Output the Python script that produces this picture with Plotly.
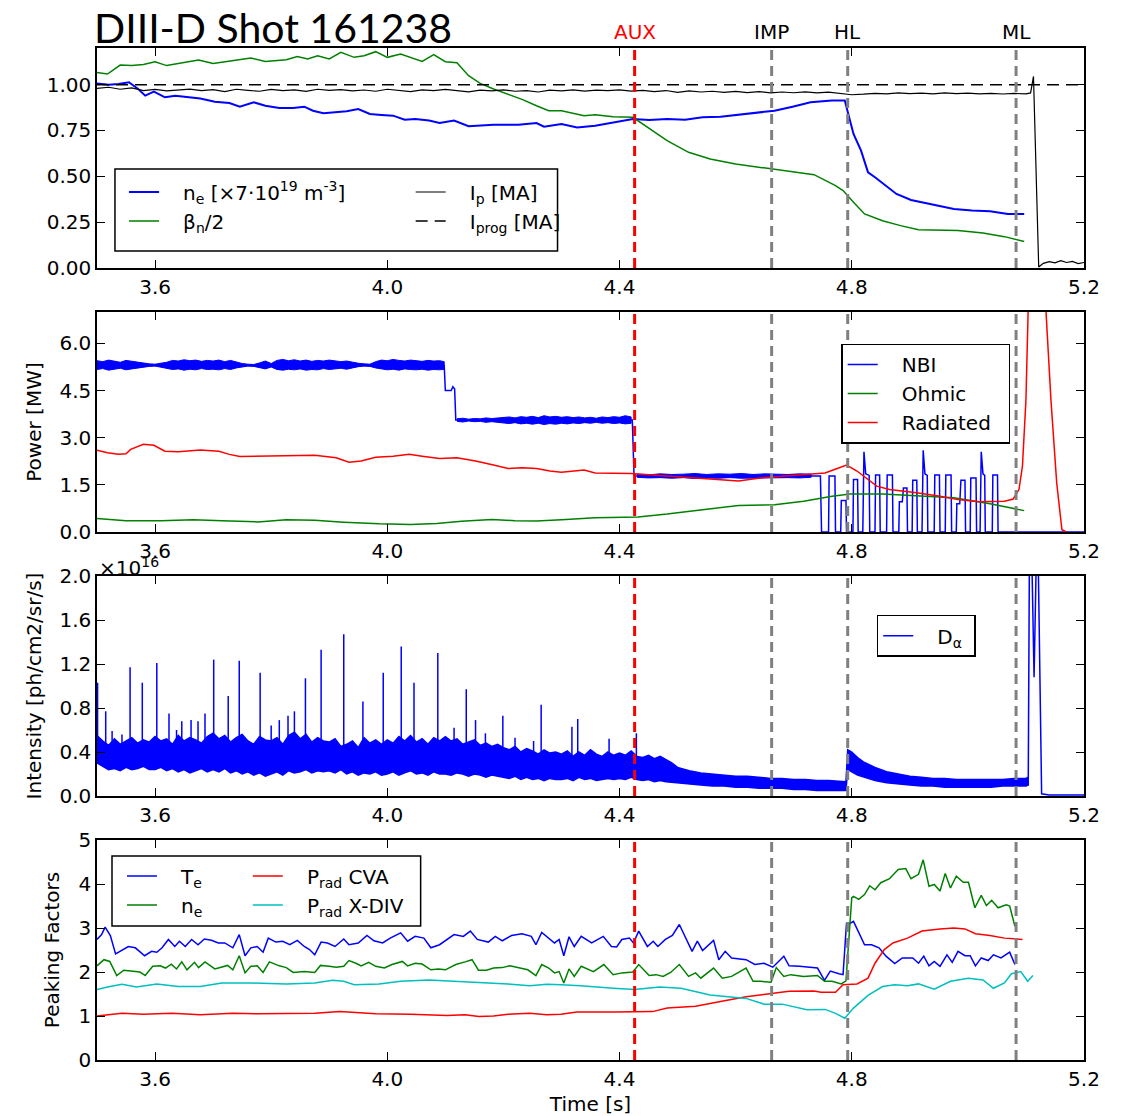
import plotly.graph_objects as go
from plotly.subplots import make_subplots

FONT = 'DejaVu Sans'
BLUE, GREEN, RED, CYAN = '#0000ff', '#008000', '#ff0000', '#00bfbf'
SP = '\u00a0\u00a0\u00a0'   # gap between legend line and label

# ---------------- panel 1: density, beta_n, plasma current
ne_t = [3.500, 3.520, 3.537, 3.555, 3.571, 3.583, 3.598, 3.617, 3.635, 3.660, 3.678, 3.703, 3.728, 3.746,
        3.770, 3.790, 3.814, 3.838, 3.857, 3.872, 3.890, 3.910, 3.930, 3.950, 3.970, 3.990, 4.010, 4.030,
        4.048, 4.072, 4.090, 4.115, 4.140, 4.183, 4.226, 4.257, 4.270, 4.300, 4.327, 4.358, 4.389, 4.423,
        4.451, 4.482, 4.513, 4.543, 4.574, 4.605, 4.642, 4.667, 4.698, 4.729, 4.766, 4.788, 4.794, 4.803,
        4.816, 4.828, 4.840, 4.859, 4.877, 4.902, 4.927, 4.952, 4.976, 5.007, 5.038, 5.069, 5.097]
ne_v = [1.007, 1.000, 1.004, 1.013, 0.976, 0.940, 0.962, 0.931, 0.940, 0.931, 0.925, 0.907, 0.900, 0.880,
        0.904, 0.885, 0.873, 0.873, 0.880, 0.858, 0.844, 0.849, 0.855, 0.867, 0.840, 0.835, 0.831, 0.809,
        0.813, 0.804, 0.791, 0.804, 0.773, 0.782, 0.782, 0.791, 0.771, 0.785, 0.767, 0.776, 0.795, 0.813,
        0.807, 0.813, 0.809, 0.822, 0.825, 0.836, 0.849, 0.858, 0.880, 0.904, 0.913, 0.913, 0.840, 0.731,
        0.640, 0.522, 0.495, 0.449, 0.404, 0.371, 0.355, 0.340, 0.322, 0.313, 0.309, 0.295, 0.295]

beta_t = [3.500, 3.518, 3.540, 3.560, 3.580, 3.600, 3.620, 3.640, 3.675, 3.700, 3.728, 3.765, 3.790, 3.826,
          3.845, 3.863, 3.880, 3.900, 3.920, 3.943, 3.960, 3.980, 4.000, 4.023, 4.060, 4.080, 4.100, 4.120,
          4.140, 4.160, 4.183, 4.232, 4.257, 4.278, 4.300, 4.339, 4.358, 4.389, 4.423, 4.457, 4.482, 4.519,
          4.556, 4.600, 4.642, 4.692, 4.735, 4.772, 4.785, 4.803, 4.822, 4.853, 4.884, 4.915, 4.952, 4.983,
          5.026, 5.063, 5.097]
beta_v = [1.067, 1.058, 1.107, 1.104, 1.110, 1.125, 1.104, 1.116, 1.135, 1.116, 1.127, 1.145, 1.127, 1.136,
          1.153, 1.140, 1.158, 1.140, 1.176, 1.149, 1.158, 1.180, 1.149, 1.167, 1.127, 1.164, 1.125, 1.120,
          1.049, 1.007, 0.976, 0.920, 0.885, 0.858, 0.858, 0.831, 0.836, 0.825, 0.822, 0.749, 0.695, 0.631,
          0.595, 0.567, 0.549, 0.527, 0.509, 0.449, 0.422, 0.358, 0.295, 0.258, 0.231, 0.209, 0.207, 0.204,
          0.191, 0.171, 0.144]

ip_t = [3.50, 3.52, 3.54, 3.56, 3.58, 3.60, 3.62, 3.64, 3.66, 3.68, 3.70, 3.72, 3.74, 3.76, 3.78, 3.80,
        3.82, 3.84, 3.86, 3.88, 3.90, 3.92, 3.94, 3.96, 3.98, 4.00, 4.02, 4.04, 4.06, 4.08, 4.10, 4.12,
        4.14, 4.16, 4.18, 4.20, 4.22, 4.24, 4.26, 4.28, 4.30, 4.32, 4.34, 4.36, 4.38, 4.40, 4.42, 4.44,
        4.46, 4.48, 4.50, 4.52, 4.54, 4.56, 4.58, 4.60, 4.62, 4.64, 4.66, 4.68, 4.70, 4.72, 4.74, 4.76,
        4.78, 4.80, 4.82, 4.84, 4.86, 4.88, 4.90, 4.92, 4.94, 4.96, 4.98, 5.00, 5.02, 5.04, 5.06, 5.08,
        5.10, 5.108, 5.113, 5.117, 5.122, 5.13, 5.14, 5.15, 5.16, 5.17, 5.18, 5.19, 5.20]
ip_v = [0.980, 0.986, 0.975, 0.982, 0.968, 0.974, 0.966, 0.972, 0.976, 0.967, 0.973, 0.962, 0.975, 0.969,
        0.964, 0.974, 0.968, 0.972, 0.963, 0.975, 0.969, 0.973, 0.966, 0.971, 0.964, 0.975, 0.969, 0.962,
        0.972, 0.967, 0.974, 0.968, 0.961, 0.970, 0.966, 0.972, 0.964, 0.968, 0.960, 0.970, 0.966, 0.972,
        0.965, 0.970, 0.968, 0.972, 0.965, 0.969, 0.962, 0.968, 0.958, 0.966, 0.960, 0.964, 0.958, 0.963,
        0.957, 0.962, 0.955, 0.960, 0.956, 0.961, 0.955, 0.959, 0.952, 0.945, 0.948, 0.953, 0.950, 0.955,
        0.951, 0.954, 0.950, 0.955, 0.951, 0.954, 0.950, 0.953, 0.949, 0.952, 0.950, 0.955, 1.045, 0.550,
        0.005, 0.025, 0.035, 0.028, 0.040, 0.030, 0.036, 0.024, 0.030]

iprog_t = [3.50, 5.20]
iprog_v = [1.00, 1.00]

# ---------------- panel 2: power balance
nbi_t = [3.500, 4.098, 4.100, 4.110, 4.113, 4.116, 4.118, 4.422, 4.425,
         4.746, 4.748, 4.760, 4.761, 4.771, 4.772, 4.781, 4.782, 4.790, 4.791, 4.802, 4.803, 4.810, 4.811,
         4.819, 4.821, 4.824, 4.830, 4.831, 4.840, 4.841, 4.848, 4.849, 4.860, 4.861, 4.870, 4.871, 4.881,
         4.882, 4.887, 4.889, 4.895, 4.896, 4.904, 4.905, 4.912, 4.913, 4.921, 4.923, 4.926, 4.930, 4.931,
         4.942, 4.943, 4.951, 4.952, 4.961, 4.962, 4.971, 4.972, 4.980, 4.981, 4.986, 4.988, 4.995, 4.996,
         5.004, 5.005, 5.014, 5.015, 5.021, 5.023, 5.026, 5.029, 5.030, 5.042, 5.043, 5.051, 5.052, 5.200]
nbi_v = [5.30, 5.30, 4.50, 4.50, 4.62, 4.55, 3.56, 3.56, 1.78,
         1.78, 0.00, 0.00, 1.78, 1.78, 0.00, 0.00, 1.00, 1.00, 0.00, 0.00, 1.67, 1.67, 0.00,
         0.00, 2.55, 1.85, 1.80, 0.00, 0.00, 1.81, 1.81, 0.00, 0.00, 1.81, 1.81, 0.00, 0.00,
         0.96, 0.96, 1.40, 1.40, 0.00, 0.00, 1.65, 1.65, 0.00, 0.00, 2.60, 1.85, 1.80, 0.00,
         0.00, 1.81, 1.81, 0.00, 0.00, 1.81, 1.81, 0.00, 0.00, 0.90, 0.90, 1.65, 1.65, 0.00,
         0.00, 1.72, 1.72, 0.00, 0.00, 2.55, 1.85, 1.80, 0.00, 0.00, 1.81, 1.81, 0.00, 0.00]

# fluctuation envelope of the beam power (max / min) during the steady phases
nbi_b1_t = [3.50, 3.51, 3.52, 3.53, 3.54, 3.55, 3.56, 3.57, 3.58, 3.59,
            3.60, 3.61, 3.62, 3.63, 3.64, 3.65, 3.66, 3.67, 3.68, 3.69,
            3.70, 3.71, 3.72, 3.73, 3.74, 3.75, 3.76, 3.77, 3.78, 3.79,
            3.80, 3.81, 3.82, 3.83, 3.84, 3.85, 3.86, 3.87, 3.88, 3.89,
            3.90, 3.91, 3.92, 3.93, 3.94, 3.95, 3.96, 3.97, 3.98, 3.99,
            4.00, 4.01, 4.02, 4.03, 4.04, 4.05, 4.06, 4.07, 4.08, 4.09, 4.098]
nbi_b1_hi = [5.45, 5.42, 5.47, 5.44, 5.40, 5.46, 5.43, 5.41, 5.38, 5.35,
             5.34, 5.36, 5.40, 5.46, 5.44, 5.48, 5.45, 5.47, 5.43, 5.46,
             5.44, 5.47, 5.42, 5.46, 5.40, 5.36, 5.34, 5.33, 5.38, 5.44,
             5.36, 5.46, 5.49, 5.45, 5.48, 5.44, 5.47, 5.43, 5.46, 5.44,
             5.47, 5.45, 5.42, 5.44, 5.40, 5.37, 5.35, 5.34, 5.42, 5.47,
             5.45, 5.49, 5.46, 5.44, 5.47, 5.45, 5.43, 5.46, 5.44, 5.45, 5.42]
nbi_b1_lo = [5.17, 5.20, 5.15, 5.18, 5.21, 5.16, 5.19, 5.22, 5.25, 5.27,
             5.28, 5.26, 5.21, 5.17, 5.19, 5.15, 5.18, 5.16, 5.20, 5.17,
             5.18, 5.16, 5.20, 5.17, 5.22, 5.26, 5.28, 5.27, 5.24, 5.19,
             5.25, 5.17, 5.15, 5.18, 5.16, 5.19, 5.15, 5.17, 5.16, 5.20,
             5.17, 5.19, 5.21, 5.18, 5.23, 5.26, 5.28, 5.27, 5.22, 5.18,
             5.16, 5.18, 5.15, 5.19, 5.17, 5.16, 5.18, 5.15, 5.17, 5.16, 5.18]
nbi_b2_t = [4.12, 4.13, 4.14, 4.15, 4.16, 4.17, 4.18, 4.19, 4.20, 4.21, 4.22, 4.23, 4.24, 4.25, 4.26, 4.27,
            4.28, 4.29, 4.30, 4.31, 4.32, 4.33, 4.34, 4.35, 4.36, 4.37, 4.38, 4.39, 4.40, 4.41, 4.42]
nbi_b2_hi = [3.60, 3.62, 3.59, 3.61, 3.60, 3.63, 3.61, 3.62, 3.64, 3.66, 3.63, 3.67, 3.65, 3.68, 3.64, 3.70,
             3.66, 3.68, 3.65, 3.67, 3.64, 3.66, 3.63, 3.65, 3.62, 3.66, 3.64, 3.67, 3.65, 3.70, 3.66]
nbi_b2_lo = [3.52, 3.50, 3.53, 3.51, 3.52, 3.49, 3.51, 3.50, 3.47, 3.45, 3.48, 3.44, 3.46, 3.43, 3.46, 3.42,
             3.45, 3.43, 3.46, 3.44, 3.47, 3.45, 3.48, 3.46, 3.49, 3.46, 3.48, 3.45, 3.47, 3.44, 3.46]
nbi_b3_t = [4.43, 4.45, 4.47, 4.49, 4.51, 4.53, 4.55, 4.57, 4.59, 4.61, 4.63, 4.65, 4.67, 4.69, 4.71, 4.73]
nbi_b3_hi = [1.84, 1.82, 1.85, 1.83, 1.84, 1.86, 1.83, 1.85, 1.84, 1.86, 1.83, 1.85, 1.84, 1.83, 1.85, 1.84]
nbi_b3_lo = [1.74, 1.72, 1.73, 1.71, 1.73, 1.70, 1.72, 1.71, 1.73, 1.71, 1.72, 1.73, 1.72, 1.73, 1.72, 1.74]

ohm_t = [3.500, 3.550, 3.610, 3.666, 3.715, 3.777, 3.826, 3.875, 3.925, 3.986, 4.040, 4.085, 4.128, 4.180,
         4.220, 4.257, 4.300, 4.358, 4.432, 4.482, 4.543, 4.605, 4.667, 4.717, 4.766, 4.797, 4.853, 4.915,
         4.976, 5.038, 5.097]
ohm_v = [0.43, 0.36, 0.36, 0.39, 0.36, 0.32, 0.39, 0.37, 0.31, 0.26, 0.24, 0.27, 0.34, 0.40,
         0.36, 0.35, 0.39, 0.45, 0.48, 0.57, 0.71, 0.84, 0.87, 0.98, 1.14, 1.21, 1.21, 1.16,
         1.09, 0.90, 0.68]

prad_t = [3.500, 3.518, 3.537, 3.550, 3.558, 3.580, 3.598, 3.617, 3.640, 3.678, 3.710, 3.728, 3.746, 3.777,
          3.826, 3.875, 3.912, 3.934, 3.955, 3.980, 4.010, 4.038, 4.060, 4.090, 4.120, 4.152, 4.183, 4.208,
          4.232, 4.257, 4.280, 4.300, 4.339, 4.358, 4.420, 4.457, 4.519, 4.574, 4.605, 4.642, 4.698, 4.754,
          4.775, 4.791, 4.809, 4.828, 4.843, 4.865, 4.890, 4.915, 4.952, 4.983, 5.020, 5.063, 5.078, 5.088,
          5.094, 5.100, 5.104, 5.112, 5.125, 5.134, 5.143, 5.153, 5.162, 5.170]
prad_v = [2.60, 2.52, 2.47, 2.49, 2.63, 2.79, 2.76, 2.57, 2.55, 2.61, 2.57, 2.47, 2.40, 2.41,
          2.41, 2.44, 2.36, 2.22, 2.26, 2.38, 2.41, 2.47, 2.41, 2.34, 2.36, 2.26, 2.13, 2.02,
          2.04, 2.02, 1.94, 1.90, 1.97, 1.88, 1.86, 1.81, 1.74, 1.67, 1.62, 1.72, 1.81, 1.88,
          2.02, 2.13, 1.94, 1.67, 1.46, 1.35, 1.30, 1.24, 1.14, 1.03, 0.96, 0.98, 1.05, 1.35,
          2.10, 4.20, 7.20, 9.50, 9.50, 7.20, 4.22, 1.56, 0.07, 0.00]

# ---------------- panel 3: D-alpha (units of 1e16), envelope of the inter-ELM signal
da_t = [3.50, 3.51, 3.52, 3.53, 3.54, 3.55, 3.56, 3.57, 3.58, 3.59,
        3.60, 3.61, 3.62, 3.63, 3.64, 3.65, 3.66, 3.67, 3.68, 3.69,
        3.70, 3.71, 3.72, 3.73, 3.74, 3.75, 3.76, 3.77, 3.78, 3.79,
        3.80, 3.81, 3.82, 3.83, 3.84, 3.85, 3.86, 3.87, 3.88, 3.89,
        3.90, 3.91, 3.92, 3.93, 3.94, 3.95, 3.96, 3.97, 3.98, 3.99,
        4.00, 4.01, 4.02, 4.03, 4.04, 4.05, 4.06, 4.07, 4.08, 4.09,
        4.10, 4.11, 4.12, 4.13, 4.14, 4.15, 4.16, 4.17, 4.18, 4.19,
        4.20, 4.21, 4.22, 4.23, 4.24, 4.25, 4.26, 4.27, 4.28, 4.29,
        4.30, 4.31, 4.32, 4.33, 4.34, 4.35, 4.36, 4.37, 4.38, 4.39,
        4.40, 4.41, 4.42, 4.43, 4.44, 4.45, 4.46, 4.47, 4.48, 4.49, 4.50,
        4.52, 4.54, 4.56, 4.58, 4.60, 4.62, 4.64, 4.66, 4.68, 4.70, 4.72, 4.74, 4.76, 4.78,
        4.79, 4.793, 4.80, 4.81, 4.82,
        4.84, 4.86, 4.88, 4.90, 4.92, 4.94, 4.96, 4.98, 5.00, 5.02, 5.04, 5.06, 5.08, 5.10,
        5.104, 5.106, 5.110, 5.114, 5.118, 5.121, 5.127, 5.14, 5.20]
da_hi = [0.55, 0.50, 0.46, 0.52, 0.47, 0.50, 0.53, 0.48, 0.51, 0.49,
         0.54, 0.50, 0.52, 0.47, 0.55, 0.50, 0.53, 0.51, 0.48, 0.54,
         0.57, 0.52, 0.55, 0.49, 0.53, 0.56, 0.50, 0.47, 0.54, 0.51,
         0.50, 0.53, 0.47, 0.55, 0.58, 0.52, 0.56, 0.49, 0.53, 0.50,
         0.49, 0.52, 0.45, 0.47, 0.50, 0.44, 0.53, 0.48, 0.51, 0.47,
         0.51, 0.48, 0.54, 0.50, 0.55, 0.49, 0.52, 0.47, 0.53, 0.50,
         0.54, 0.50, 0.52, 0.47, 0.49, 0.51, 0.46, 0.48, 0.45, 0.47,
         0.44, 0.42, 0.45, 0.40, 0.43, 0.41, 0.38, 0.42, 0.39, 0.40,
         0.38, 0.41, 0.36, 0.40, 0.37, 0.42, 0.38, 0.36, 0.40, 0.37,
         0.39, 0.37, 0.41, 0.36, 0.35, 0.37, 0.34, 0.36, 0.33, 0.30, 0.26,
         0.23, 0.21, 0.20, 0.19, 0.18, 0.18, 0.17, 0.16, 0.16, 0.15, 0.15, 0.14, 0.14, 0.13,
         0.13, 0.42, 0.40, 0.35, 0.31,
         0.26, 0.22, 0.20, 0.18, 0.17, 0.16, 0.16, 0.15, 0.15, 0.15, 0.15, 0.15, 0.16, 0.16,
         0.17, 2.20, 2.20, 1.08, 2.20, 2.20, 0.02, 0.01, 0.01]
da_lo = [0.30, 0.27, 0.24, 0.25, 0.23, 0.26, 0.24, 0.25, 0.27, 0.24,
         0.24, 0.26, 0.23, 0.25, 0.22, 0.24, 0.21, 0.23, 0.25, 0.22,
         0.24, 0.22, 0.25, 0.21, 0.23, 0.20, 0.22, 0.19, 0.21, 0.18,
         0.20, 0.22, 0.19, 0.23, 0.21, 0.22, 0.24, 0.21, 0.23, 0.22,
         0.23, 0.21, 0.24, 0.20, 0.22, 0.19, 0.21, 0.20, 0.22, 0.19,
         0.20, 0.22, 0.19, 0.21, 0.23, 0.20, 0.21, 0.19, 0.22, 0.20,
         0.20, 0.19, 0.21, 0.20, 0.18, 0.20, 0.19, 0.17, 0.19, 0.18,
         0.17, 0.16, 0.18, 0.15, 0.17, 0.15, 0.16, 0.14, 0.16, 0.15,
         0.15, 0.16, 0.14, 0.17, 0.15, 0.16, 0.14, 0.15, 0.16, 0.15,
         0.16, 0.15, 0.17, 0.15, 0.14, 0.15, 0.13, 0.14, 0.13, 0.12, 0.12,
         0.11, 0.10, 0.09, 0.09, 0.08, 0.08, 0.07, 0.07, 0.07, 0.06, 0.06, 0.05, 0.05, 0.05,
         0.05, 0.24, 0.22, 0.19, 0.17,
         0.14, 0.12, 0.11, 0.10, 0.09, 0.09, 0.08, 0.08, 0.08, 0.08, 0.08, 0.09, 0.09, 0.09,
         0.10, 2.20, 2.20, 1.08, 2.20, 2.20, 0.02, 0.01, 0.01]
# ELM spikes: time and peak
elm_t = [3.501, 3.515, 3.526, 3.543, 3.557, 3.578, 3.603, 3.624, 3.637, 3.646, 3.662, 3.674, 3.686, 3.701,
         3.726, 3.745, 3.781, 3.800, 3.814, 3.829, 3.840, 3.859, 3.886, 3.908, 3.925, 3.958, 3.993, 4.024,
         4.046, 4.087, 4.115, 4.136, 4.152, 4.169, 4.199, 4.220, 4.252, 4.265, 4.318, 4.328, 4.382, 4.429]
elm_v = [1.03, 0.77, 0.59, 0.56, 1.17, 1.03, 1.21, 0.75, 0.60, 0.68, 0.69, 0.68, 0.75, 1.24,
         0.91, 1.23, 1.12, 0.64, 0.69, 0.73, 0.77, 1.07, 1.33, 0.51, 1.47, 0.86, 1.12, 1.36,
         1.03, 1.30, 0.62, 0.97, 0.69, 0.57, 0.73, 0.53, 0.50, 0.83, 0.63, 0.70, 0.52, 0.57]

# ---------------- panel 4: peaking factors
te_t = [3.500, 3.508, 3.514, 3.523, 3.532, 3.545, 3.554, 3.566, 3.582, 3.594, 3.603, 3.612, 3.623, 3.634,
        3.642, 3.652, 3.663, 3.674, 3.685, 3.697, 3.709, 3.720, 3.734, 3.745, 3.755, 3.765, 3.776, 3.786,
        3.795, 3.808, 3.820, 3.832, 3.845, 3.857, 3.866, 3.875, 3.886, 3.897, 3.910, 3.925, 3.934, 3.950,
        3.965, 3.977, 3.992, 4.005, 4.023, 4.035, 4.048, 4.063, 4.075, 4.090, 4.103, 4.115, 4.131, 4.143,
        4.155, 4.174, 4.186, 4.198, 4.214, 4.232, 4.248, 4.256, 4.266, 4.278, 4.288,
        4.296, 4.304, 4.313, 4.322, 4.334, 4.352, 4.372, 4.386, 4.395, 4.404, 4.417, 4.424, 4.433, 4.448,
        4.458, 4.466, 4.479, 4.491, 4.503, 4.513, 4.525, 4.534, 4.543, 4.562, 4.571, 4.582, 4.593, 4.618,
        4.633, 4.649, 4.664, 4.683, 4.692, 4.710, 4.729, 4.741, 4.753, 4.763, 4.778, 4.785, 4.791, 4.794,
        4.803, 4.812, 4.822, 4.834, 4.847, 4.859, 4.874, 4.887, 4.905, 4.915, 4.924, 4.933, 4.942, 4.952,
        4.964, 4.973, 4.983, 4.995, 5.004, 5.013, 5.023, 5.035, 5.044, 5.057, 5.072, 5.081]
te_v = [2.74, 2.85, 3.02, 2.83, 2.41, 2.51, 2.58, 2.55, 2.37, 2.47, 2.45, 2.55, 2.74, 2.58,
        2.70, 2.58, 2.74, 2.62, 2.75, 2.72, 2.66, 2.66, 2.55, 2.85, 2.37, 2.55, 2.58, 2.45,
        2.77, 2.68, 2.70, 2.62, 2.72, 2.58, 2.51, 2.39, 2.68, 2.66, 2.58, 2.75, 2.62, 2.66,
        2.83, 2.71, 2.66, 2.77, 2.89, 2.70, 2.81, 2.77, 2.55, 2.62, 2.74, 2.85, 2.81, 2.93,
        2.74, 2.68, 2.81, 2.71, 2.83, 2.87, 2.81, 2.62, 2.90, 2.77, 2.66,
        2.74, 2.37, 2.80, 2.58, 2.81, 2.66, 2.81, 2.58, 2.57, 2.74, 2.77, 2.66, 2.93, 2.58,
        2.70, 2.58, 2.74, 2.83, 3.08, 2.81, 2.47, 2.70, 2.49, 2.72, 2.28, 2.47, 2.32, 2.28,
        2.17, 2.20, 2.11, 2.36, 2.14, 2.13, 2.11, 2.09, 1.81, 2.02, 1.96, 1.94, 3.12, 3.08,
        3.15, 2.89, 2.62, 2.62, 2.55, 2.36, 2.19, 2.32, 2.32, 2.20, 2.36, 2.14, 2.24, 2.13,
        2.39, 2.22, 2.47, 2.37, 2.37, 2.14, 2.32, 2.26, 2.39, 2.32, 2.45, 2.17]

nep_t = [3.500, 3.512, 3.522, 3.534, 3.546, 3.562, 3.574, 3.583, 3.596, 3.609, 3.618, 3.628, 3.637, 3.646,
         3.655, 3.668, 3.675, 3.686, 3.703, 3.725, 3.734, 3.745, 3.755, 3.765, 3.776, 3.786, 3.797, 3.814,
         3.826, 3.838, 3.857, 3.875, 3.885, 3.900, 3.912, 3.925, 3.934, 3.946, 3.955, 3.968, 3.980, 3.995,
         4.008, 4.026, 4.035, 4.048, 4.060, 4.075, 4.088, 4.100, 4.118, 4.134, 4.146, 4.157, 4.171, 4.183,
         4.198, 4.211, 4.226, 4.242, 4.256, 4.266, 4.278, 4.288,
         4.296, 4.304, 4.313, 4.322, 4.334, 4.355, 4.373, 4.389, 4.404, 4.423, 4.433, 4.451, 4.463, 4.475,
         4.488, 4.503, 4.519, 4.531, 4.540, 4.562, 4.577, 4.593, 4.618, 4.630, 4.642, 4.661, 4.670, 4.683,
         4.695, 4.717, 4.741, 4.753, 4.766, 4.782, 4.790, 4.800, 4.803, 4.812, 4.822, 4.831, 4.840, 4.850,
         4.865, 4.880, 4.893, 4.902, 4.915, 4.923, 4.933, 4.942, 4.952, 4.961, 4.970, 4.980, 4.992, 5.001,
         5.012, 5.023, 5.032, 5.041, 5.052, 5.066, 5.072, 5.081]
nep_v = [2.14, 2.28, 2.24, 1.92, 2.04, 2.01, 2.00, 1.92, 2.13, 2.14, 2.09, 2.18, 2.07, 2.23,
         2.05, 2.22, 2.10, 2.23, 2.07, 2.15, 2.05, 2.37, 1.98, 2.13, 2.14, 1.99, 2.23, 2.14,
         2.10, 1.99, 2.01, 1.99, 2.15, 2.13, 2.11, 2.13, 2.26, 2.20, 2.14, 2.22, 2.13, 2.09,
         2.17, 2.24, 2.14, 2.20, 2.18, 2.05, 2.07, 2.05, 2.17, 2.23, 2.28, 2.04, 2.04, 2.09,
         2.10, 2.14, 2.09, 2.05, 1.92, 2.17, 2.09, 1.98,
         2.01, 1.75, 2.07, 1.90, 2.13, 2.01, 2.17, 1.94, 1.98, 2.00, 2.17, 1.92, 1.94, 1.90,
         1.99, 2.17, 1.90, 1.98, 1.86, 2.09, 1.86, 1.90, 2.09, 1.79, 1.79, 1.77, 2.10, 1.90,
         1.94, 1.90, 1.92, 1.79, 1.79, 1.73, 1.80, 3.69, 3.72, 3.65, 3.76, 3.96, 3.87, 4.03,
         4.12, 4.33, 4.35, 4.12, 4.22, 4.55, 3.95, 3.99, 3.84, 4.24, 3.91, 4.18, 4.04, 4.04,
         3.46, 3.74, 3.51, 3.63, 3.46, 3.53, 3.50, 3.04]

cva_t = [3.500, 3.518, 3.543, 3.580, 3.629, 3.678, 3.734, 3.777, 3.826, 3.875, 3.918, 3.949, 3.980, 4.040,
         4.103, 4.134, 4.158, 4.183, 4.208, 4.245, 4.275, 4.299, 4.327, 4.389, 4.457, 4.482, 4.531, 4.574,
         4.618, 4.655, 4.692, 4.735, 4.747, 4.772, 4.785, 4.809, 4.828, 4.840, 4.856, 4.871, 4.896, 4.921,
         4.952, 4.976, 4.995, 5.013, 5.038, 5.063, 5.094]
cva_v = [1.00, 1.03, 1.06, 1.04, 1.06, 1.03, 1.06, 1.05, 1.06, 1.06, 1.10, 1.08, 1.05, 1.04,
         1.01, 1.03, 0.99, 1.00, 1.04, 1.06, 1.03, 1.04, 1.09, 1.09, 1.10, 1.18, 1.22, 1.33,
         1.44, 1.50, 1.56, 1.57, 1.54, 1.54, 1.71, 1.73, 1.86, 2.20, 2.51, 2.66, 2.77, 2.93,
         2.98, 3.00, 2.98, 2.87, 2.83, 2.77, 2.74]

xdiv_t = [3.500, 3.518, 3.543, 3.568, 3.603, 3.640, 3.678, 3.715, 3.765, 3.826, 3.875, 3.906, 3.925, 3.943,
          3.986, 4.023, 4.072, 4.120, 4.163, 4.208, 4.245, 4.275, 4.299, 4.333, 4.389, 4.426, 4.469, 4.506,
          4.556, 4.618, 4.649, 4.680, 4.723, 4.754, 4.772, 4.788, 4.803, 4.828, 4.853, 4.874, 4.896, 4.915,
          4.942, 4.970, 5.001, 5.026, 5.044, 5.063, 5.075, 5.091, 5.103, 5.112]
xdiv_v = [1.60, 1.66, 1.72, 1.66, 1.73, 1.67, 1.67, 1.75, 1.75, 1.73, 1.75, 1.81, 1.79, 1.71,
          1.73, 1.79, 1.82, 1.79, 1.76, 1.73, 1.69, 1.72, 1.71, 1.69, 1.63, 1.60, 1.66, 1.63,
          1.48, 1.40, 1.27, 1.27, 1.14, 1.15, 1.06, 0.95, 1.18, 1.47, 1.67, 1.71, 1.69, 1.73,
          1.61, 1.79, 1.86, 1.82, 1.63, 1.75, 1.96, 2.01, 1.79, 1.92]

# event markers
event_names = ['AUX', 'IMP', 'HL', 'ML']
event_times = [4.426, 4.662, 4.793, 5.083]
event_colors = ['red', 'gray', 'gray', 'gray']

x_ticks = [3.6, 4.0, 4.4, 4.8, 5.2]


def band(segments):
    # closed min/max polygons, one per segment, separated by gaps
    xs, ys = [], []
    for t, hi, lo in segments:
        xs += t + t[::-1] + [None]
        ys += hi + lo[::-1] + [None]
    return xs, ys


fig = make_subplots(rows=4, cols=1, vertical_spacing=0.0435)

# panel 1
fig.add_trace(go.Scatter(x=ne_t, y=ne_v, mode='lines', line=dict(color=BLUE, width=2),
                         name=SP + 'n<sub>e</sub> [×7·10<sup>19</sup> m<sup>-3</sup>]', legend='legend'), row=1, col=1)
fig.add_trace(go.Scatter(x=beta_t, y=beta_v, mode='lines', line=dict(color=GREEN, width=1.5),
                         name=SP + 'β<sub>n</sub>/2', legend='legend'), row=1, col=1)
fig.add_trace(go.Scatter(x=ip_t, y=ip_v, mode='lines', line=dict(color='black', width=1.2),
                         name=SP + 'I<sub>p</sub> [MA]', legend='legend2'), row=1, col=1)
fig.add_trace(go.Scatter(x=iprog_t, y=iprog_v, mode='lines', line=dict(color='black', width=1.5, dash='12px,7px'),
                         name=SP + 'I<sub>prog</sub> [MA]', legend='legend2'), row=1, col=1)

# panel 2
bx, by = band([(nbi_b1_t, nbi_b1_hi, nbi_b1_lo), (nbi_b2_t, nbi_b2_hi, nbi_b2_lo), (nbi_b3_t, nbi_b3_hi, nbi_b3_lo)])
fig.add_trace(go.Scatter(x=bx, y=by, mode='lines', fill='toself', fillcolor=BLUE,
                         line=dict(color=BLUE, width=1), showlegend=False, hoverinfo='skip'), row=2, col=1)
fig.add_trace(go.Scatter(x=nbi_t, y=nbi_v, mode='lines', line=dict(color=BLUE, width=1.5),
                         name=SP + 'NBI', legend='legend3'), row=2, col=1)
fig.add_trace(go.Scatter(x=ohm_t, y=ohm_v, mode='lines', line=dict(color=GREEN, width=1.5),
                         name=SP + 'Ohmic', legend='legend3'), row=2, col=1)
fig.add_trace(go.Scatter(x=prad_t, y=prad_v, mode='lines', line=dict(color=RED, width=1.5),
                         name=SP + 'Radiated\u00a0\u00a0', legend='legend3'), row=2, col=1)

# panel 3
dx, dy = band([(da_t, da_hi, da_lo)])
fig.add_trace(go.Scatter(x=dx, y=dy, mode='lines', fill='toself', fillcolor=BLUE,
                         line=dict(color=BLUE, width=1.5), showlegend=False, hoverinfo='skip'), row=3, col=1)
sx, sy = [], []
for t, v in zip(elm_t, elm_v):
    sx += [t, t, None]
    sy += [0.3, v, None]
fig.add_trace(go.Scatter(x=sx, y=sy, mode='lines', line=dict(color=BLUE, width=1.5),
                         name=SP + 'D<sub>α</sub>\u00a0', legend='legend4'), row=3, col=1)

# panel 4
fig.add_trace(go.Scatter(x=te_t, y=te_v, mode='lines', line=dict(color=BLUE, width=1.5),
                         name=SP + 'T<sub>e</sub>', legend='legend5'), row=4, col=1)
fig.add_trace(go.Scatter(x=nep_t, y=nep_v, mode='lines', line=dict(color=GREEN, width=1.5),
                         name=SP + 'n<sub>e</sub>', legend='legend5'), row=4, col=1)
fig.add_trace(go.Scatter(x=cva_t, y=cva_v, mode='lines', line=dict(color=RED, width=1.5),
                         name=SP + 'P<sub>rad</sub> CVA', legend='legend6'), row=4, col=1)
fig.add_trace(go.Scatter(x=xdiv_t, y=xdiv_v, mode='lines', line=dict(color=CYAN, width=1.5),
                         name=SP + 'P<sub>rad</sub> X-DIV', legend='legend6'), row=4, col=1)

axis_style = dict(showline=True, linecolor='black', linewidth=1.5, mirror='allticks', ticks='inside',
                  ticklen=8, tickwidth=1.2, tickcolor='black', showgrid=False, zeroline=False,
                  tickfont=dict(family=FONT, size=20, color='black'), automargin=False)
title_font = dict(family=FONT, size=20, color='black')

for r in range(1, 5):
    fig.update_xaxes(axis_style, range=[3.5, 5.2], tickvals=x_ticks,
                     ticktext=['%.1f' % v for v in x_ticks], row=r, col=1)

fig.update_yaxes(axis_style, range=[0, 1.2], tickvals=[0, 0.25, 0.5, 0.75, 1.0],
                 ticktext=['0.00', '0.25', '0.50', '0.75', '1.00'], row=1, col=1)
fig.update_yaxes(axis_style, range=[0, 7], tickvals=[0, 1.5, 3, 4.5, 6],
                 ticktext=['0.0', '1.5', '3.0', '4.5', '6.0'], row=2, col=1,
                 title=dict(text='Power [MW]', font=title_font, standoff=12))
fig.update_yaxes(axis_style, range=[0, 2.0], tickvals=[0, 0.4, 0.8, 1.2, 1.6, 2.0],
                 ticktext=['0.0', '0.4', '0.8', '1.2', '1.6', '2.0'], row=3, col=1,
                 title=dict(text='Intensity [ph/cm2/sr/s]', font=title_font, standoff=12))
fig.update_yaxes(axis_style, range=[0, 5], tickvals=[0, 1, 2, 3, 4, 5], row=4, col=1,
                 title=dict(text='Peaking Factors', font=title_font, standoff=14))
fig.update_xaxes(title=dict(text='Time [s]', font=title_font, standoff=8), row=4, col=1)

# event lines in every panel
shapes = []
for r in range(1, 5):
    xr = 'x' if r == 1 else 'x%d' % r
    yr = 'y domain' if r == 1 else 'y%d domain' % r
    for t, c in zip(event_times, event_colors):
        shapes.append(dict(type='line', xref=xr, yref=yr, x0=t, x1=t, y0=0, y1=1,
                           line=dict(color=c, width=3, dash='10px,6px')))
# legend frames for the two-column legends
shapes.append(dict(type='rect', xref='paper', yref='paper', x0=0.0182, x1=0.4666, y0=0.7994, y1=0.8804,
                   line=dict(color='black', width=1.5), fillcolor='rgba(0,0,0,0)'))
shapes.append(dict(type='rect', xref='paper', yref='paper', x0=0.0152, x1=0.3279, y0=0.1324, y1=0.2016,
                   line=dict(color='black', width=1.5), fillcolor='rgba(0,0,0,0)'))

annotations = []
for n, t, c in zip(event_names, event_times, event_colors):
    annotations.append(dict(text=n, x=t, xref='x', y=1, yref='paper', yanchor='bottom', yshift=2,
                            showarrow=False, font=dict(family=FONT, size=20, color='red' if c == 'red' else 'black')))
annotations.append(dict(text='DIII-D Shot 161238', x=0, xref='paper', xanchor='left', xshift=-4,
                        y=1, yref='paper', yanchor='bottom', yshift=-3, showarrow=False, borderpad=0,
                        height=46, valign='middle',
                        font=dict(family='Lato', size=41, color='black')))
annotations.append(dict(text='×10<sup>16</sup>', x=0, xref='paper', xanchor='left', y=0.4783, yref='paper',
                        yanchor='bottom', yshift=-6, showarrow=False, font=dict(family=FONT, size=20, color='black')))

leg_font = dict(family=FONT, size=20, color='black')
leg_base = dict(font=leg_font, bgcolor='rgba(255,255,255,0)', xanchor='left', yanchor='top', xref='paper', yref='paper')

# the page adds an 8px body margin, so the figure is 8px smaller than the window
fig.update_layout(
    width=1117, height=1108,
    margin=dict(l=89, r=41, t=40, b=56),
    plot_bgcolor='white', paper_bgcolor='white',
    shapes=shapes, annotations=annotations,
    legend=dict(leg_base, x=0.0274, y=0.877),
    legend2=dict(leg_base, x=0.3178, y=0.877),
    legend3=dict(leg_base, x=0.7540, y=0.7080, bgcolor='white', bordercolor='black', borderwidth=1.5),
    legend4=dict(leg_base, x=0.7900, y=0.4400, bgcolor='white', bordercolor='black', borderwidth=1.5),
    legend5=dict(leg_base, x=0.0253, y=0.2010),
    legend6=dict(leg_base, x=0.1528, y=0.2010),
)

fig.write_html('out.html')
